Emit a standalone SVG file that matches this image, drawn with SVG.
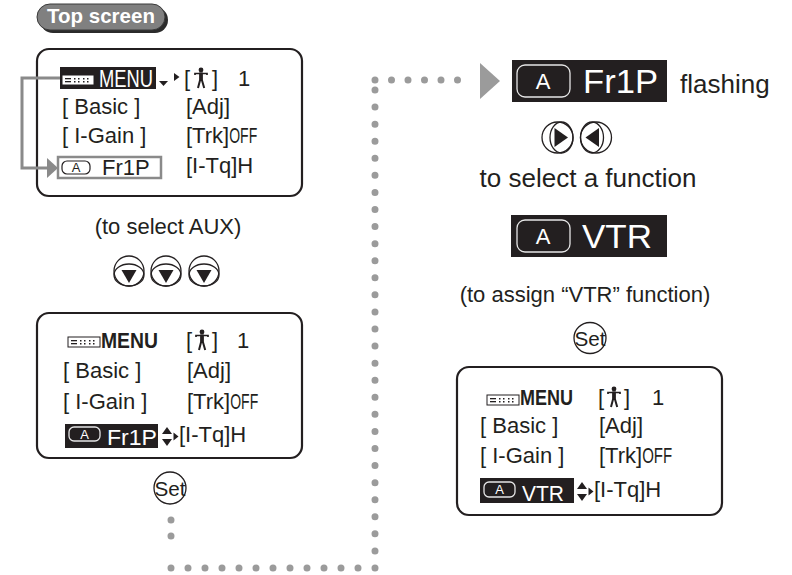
<svg xmlns="http://www.w3.org/2000/svg" width="792" height="575" viewBox="0 0 792 575">
<style>
text { font-family: "Liberation Sans", Arial, Helvetica, sans-serif; fill: #231f20; }
.scr { font-size: 22px; }
.w { fill: #ffffff; }
.box { fill: #ffffff; stroke: #231f20; stroke-width: 2.2; }
.hl { fill: #231f20; }
.btn { fill: #ffffff; stroke: #231f20; stroke-width: 1.3; }
.ring { fill: none; stroke: #231f20; stroke-width: 1.3; }
.tri { fill: #231f20; }
.dots { fill: none; stroke: #9b9b9b; stroke-width: 7; stroke-linecap: round; }
.gray { fill: none; stroke: #8a8a8a; stroke-width: 3; }
.lbl { font-size: 22px; }
.big { font-size: 26px; }
.abox { fill: none; stroke: #231f20; stroke-width: 1.2; }
.aboxw { fill: none; stroke: #e6e6e6; stroke-width: 1.3; }
.bold { font-weight: bold; }
</style>
<defs>
  <g id="man" stroke="#231f20" fill="none">
    <circle cx="0" cy="-8" r="2.4" fill="#231f20" stroke="none"/>
    <path d="M-6,-3 V-4.5 H6 V-3" stroke-width="1.7"/>
    <path d="M0,-5.5 V3" stroke-width="3.8"/>
    <path d="M-0.9,2 L-3,10 M0.9,2 L3.2,10" stroke-width="2"/>
  </g>
  <g id="menuicon">
    <rect x="0" y="0" width="32" height="10" fill="#ffffff" stroke="#231f20" stroke-width="1"/>
    <g fill="#231f20">
      <rect x="3" y="3" width="6" height="1.3"/>
      <rect x="3" y="6" width="6" height="1.3"/>
      <rect x="12" y="3" width="1.5" height="1.5"/>
      <rect x="12" y="6" width="1.5" height="1.5"/>
      <rect x="16" y="3" width="1.5" height="1.5"/>
      <rect x="16" y="6" width="1.5" height="1.5"/>
      <rect x="21" y="3" width="1.5" height="1.5"/>
      <rect x="21" y="6" width="1.5" height="1.5"/>
      <rect x="25" y="3" width="1.5" height="1.5"/>
      <rect x="25" y="6" width="1.5" height="1.5"/>
    </g>
  </g>
  <g id="btndown">
    <circle r="15" class="btn"/>
    <ellipse cx="0" cy="4" rx="15" ry="11" class="ring"/>
    <polygon points="-7.5,-1 7.5,-1 0,12" class="tri"/>
  </g>
  <g id="btnright">
    <circle r="15.5" class="btn"/>
    <ellipse cx="4" cy="0" rx="11.5" ry="15.5" class="ring"/>
    <polygon points="-3,-9.5 -3,9.5 10.5,0" class="tri"/>
  </g>
  <g id="btnleft">
    <circle r="15.5" class="btn"/>
    <ellipse cx="-4" cy="0" rx="11.5" ry="15.5" class="ring"/>
    <polygon points="3,-9.5 3,9.5 -10.5,0" class="tri"/>
  </g>
</defs>

<!-- Top screen label -->
<g id="label-top-screen">
  <rect x="40" y="7" width="128" height="26" rx="13" fill="#2b2b2b"/>
  <rect x="37" y="4" width="128" height="26" rx="13" fill="#808080" stroke="#3a3a3a" stroke-width="1"/>
  <text x="101" y="23" text-anchor="middle" class="bold w" font-size="20.5">Top screen</text>
</g>

<!-- Top screen -->
<g id="screen-top">
  <rect x="37" y="49" width="265" height="147" rx="12" class="box"/>
  <rect x="60" y="67" width="96" height="22" class="hl"/>
  <use href="#menuicon" x="62" y="75"/>
  <text x="99" y="87" class="w" font-size="24" textLength="54" lengthAdjust="spacingAndGlyphs">MENU</text>
  <polygon points="159,81 168,81 163.5,86" class="tri"/>
  <polygon points="174,73 174,81 179.5,77" class="tri"/>
  <text x="184" y="86" class="scr">[</text>
  <use href="#man" x="201" y="78"/>
  <text x="212" y="86" class="scr">]</text>
  <text x="238" y="86" class="scr">1</text>
  <text x="62" y="114" class="scr">[ Basic ]</text>
  <text x="186" y="114" class="scr">[Adj]</text>
  <text x="62" y="143" class="scr">[ I-Gain ]</text>
  <text x="186" y="143" class="scr">[Trk]<tspan textLength="28" lengthAdjust="spacingAndGlyphs">OFF</tspan></text>
  <rect x="58" y="157" width="103" height="21" fill="none" stroke="#8a8a8a" stroke-width="2.5"/>
  <rect x="62" y="161" width="28" height="13" rx="5" class="abox"/>
  <text x="76" y="172" text-anchor="middle" font-size="13">A</text>
  <text x="102" y="175" class="scr">Fr1P</text>
  <text x="186" y="173" class="scr">[I-Tq]H</text>
</g>

<g id="hint-aux">
  <text x="168" y="234" text-anchor="middle" class="lbl">(to select AUX)</text>
</g>

<g id="buttons-down">
  <use href="#btndown" x="129" y="271"/>
  <use href="#btndown" x="166" y="271"/>
  <use href="#btndown" x="204" y="271"/>
</g>

<!-- Screen after selecting -->
<g id="screen-select">
  <rect x="37" y="313" width="265" height="145" rx="12" class="box"/>
  <use href="#menuicon" x="68" y="337"/>
  <text x="101" y="348" class="bold" font-size="22" textLength="57" lengthAdjust="spacingAndGlyphs">MENU</text>
  <text x="186" y="348" class="scr">[</text>
  <use href="#man" x="202" y="340"/>
  <text x="212" y="348" class="scr">]</text>
  <text x="237" y="348" class="scr">1</text>
  <text x="63" y="378" class="scr">[ Basic ]</text>
  <text x="187" y="378" class="scr">[Adj]</text>
  <text x="63" y="409" class="scr">[ I-Gain ]</text>
  <text x="187" y="409" class="scr">[Trk]<tspan textLength="28" lengthAdjust="spacingAndGlyphs">OFF</tspan></text>
  <rect x="65" y="424" width="93" height="24" class="hl"/>
  <rect x="69" y="427" width="31" height="14" rx="5" class="aboxw"/>
  <text x="84.5" y="438.5" text-anchor="middle" font-size="13" class="w">A</text>
  <text x="107" y="445" class="scr w" textLength="50" lengthAdjust="spacingAndGlyphs">Fr1P</text>
  <polygon points="162,434 172,434 167,427" class="tri"/>
  <polygon points="162,439 172,439 167,446" class="tri"/>
  <polygon points="173.5,432.5 173.5,440.5 178.5,436.5" class="tri"/>
  <text x="179" y="442" class="scr">[I-Tq]H</text>
</g>

<g id="set-1">
  <ellipse cx="170" cy="488" rx="16" ry="16" class="btn"/>
  <text x="170" y="495.5" text-anchor="middle" font-size="21" textLength="31" lengthAdjust="spacingAndGlyphs">Set</text>
</g>

<!-- Right column -->
<g id="fr1p-flashing">
  <rect x="512" y="60" width="155" height="42" class="hl"/>
  <rect x="517" y="65" width="53" height="32" rx="8" class="aboxw"/>
  <text x="543" y="89" text-anchor="middle" font-size="22" class="w">A</text>
  <text x="583" y="93" font-size="34" class="w" textLength="75" lengthAdjust="spacingAndGlyphs">Fr1P</text>
  <text x="680" y="93" class="big">flashing</text>
</g>

<g id="buttons-lr">
  <use href="#btnright" x="557.5" y="137.5"/>
  <use href="#btnleft" x="596" y="137.5"/>
</g>

<g id="hint-func">
  <text x="588" y="187" text-anchor="middle" class="big">to select a function</text>
</g>

<g id="vtr-display">
  <rect x="511" y="215" width="156" height="42" class="hl"/>
  <rect x="517" y="220" width="53" height="32" rx="8" class="aboxw"/>
  <text x="543" y="244" text-anchor="middle" font-size="22" class="w">A</text>
  <text x="582" y="248" font-size="34" class="w" textLength="70" lengthAdjust="spacingAndGlyphs">VTR</text>
</g>

<g id="hint-vtr">
  <text x="585" y="302" text-anchor="middle" class="lbl">(to assign “VTR” function)</text>
</g>

<g id="set-2">
  <ellipse cx="590" cy="338" rx="16" ry="15.5" class="btn"/>
  <text x="590" y="345.5" text-anchor="middle" font-size="21" textLength="31" lengthAdjust="spacingAndGlyphs">Set</text>
</g>

<!-- Final screen -->
<g id="screen-final">
  <rect x="457" y="367" width="265" height="148" rx="12" class="box"/>
  <use href="#menuicon" x="487" y="395"/>
  <text x="520" y="405" class="bold" font-size="22" textLength="53" lengthAdjust="spacingAndGlyphs">MENU</text>
  <text x="598" y="405" class="scr">[</text>
  <use href="#man" x="614" y="397"/>
  <text x="624" y="405" class="scr">]</text>
  <text x="652" y="405" class="scr">1</text>
  <text x="480" y="433" class="scr">[ Basic ]</text>
  <text x="599" y="433" class="scr">[Adj]</text>
  <text x="480" y="463" class="scr">[ I-Gain ]</text>
  <text x="599" y="463" class="scr">[Trk]<tspan textLength="30" lengthAdjust="spacingAndGlyphs">OFF</tspan></text>
  <rect x="480" y="478" width="94" height="25" class="hl"/>
  <rect x="484" y="482" width="31" height="15" rx="5" class="aboxw"/>
  <text x="499.5" y="494" text-anchor="middle" font-size="13" class="w">A</text>
  <text x="522" y="501" font-size="22" class="w" textLength="42" lengthAdjust="spacingAndGlyphs">VTR</text>
  <polygon points="577,489 587,489 582,482" class="tri"/>
  <polygon points="577,494 587,494 582,501" class="tri"/>
  <polygon points="588.5,487.5 588.5,495.5 593.5,491.5" class="tri"/>
  <text x="594" y="497" class="scr">[I-Tq]H</text>
</g>

<!-- Connectors (drawn last so they sit on top) -->
<g id="connectors">
  <path d="M60,78 H22 V168 H50" class="gray"/>
  <polygon points="47,158 58,168 47,178" fill="#8a8a8a"/>
  <path d="M171,520 V552" class="dots" stroke-dasharray="0 16"/>
  <path d="M171,568 H375" class="dots" stroke-dasharray="0 17"/>
  <path d="M375,568 V90" class="dots" stroke-dasharray="0 17.0714"/>
  <path d="M375,80 H474" class="dots" stroke-dasharray="0 16.5"/>
  <polygon points="480,63 500,81 480,99" fill="#9b9b9b"/>
</g>
</svg>
